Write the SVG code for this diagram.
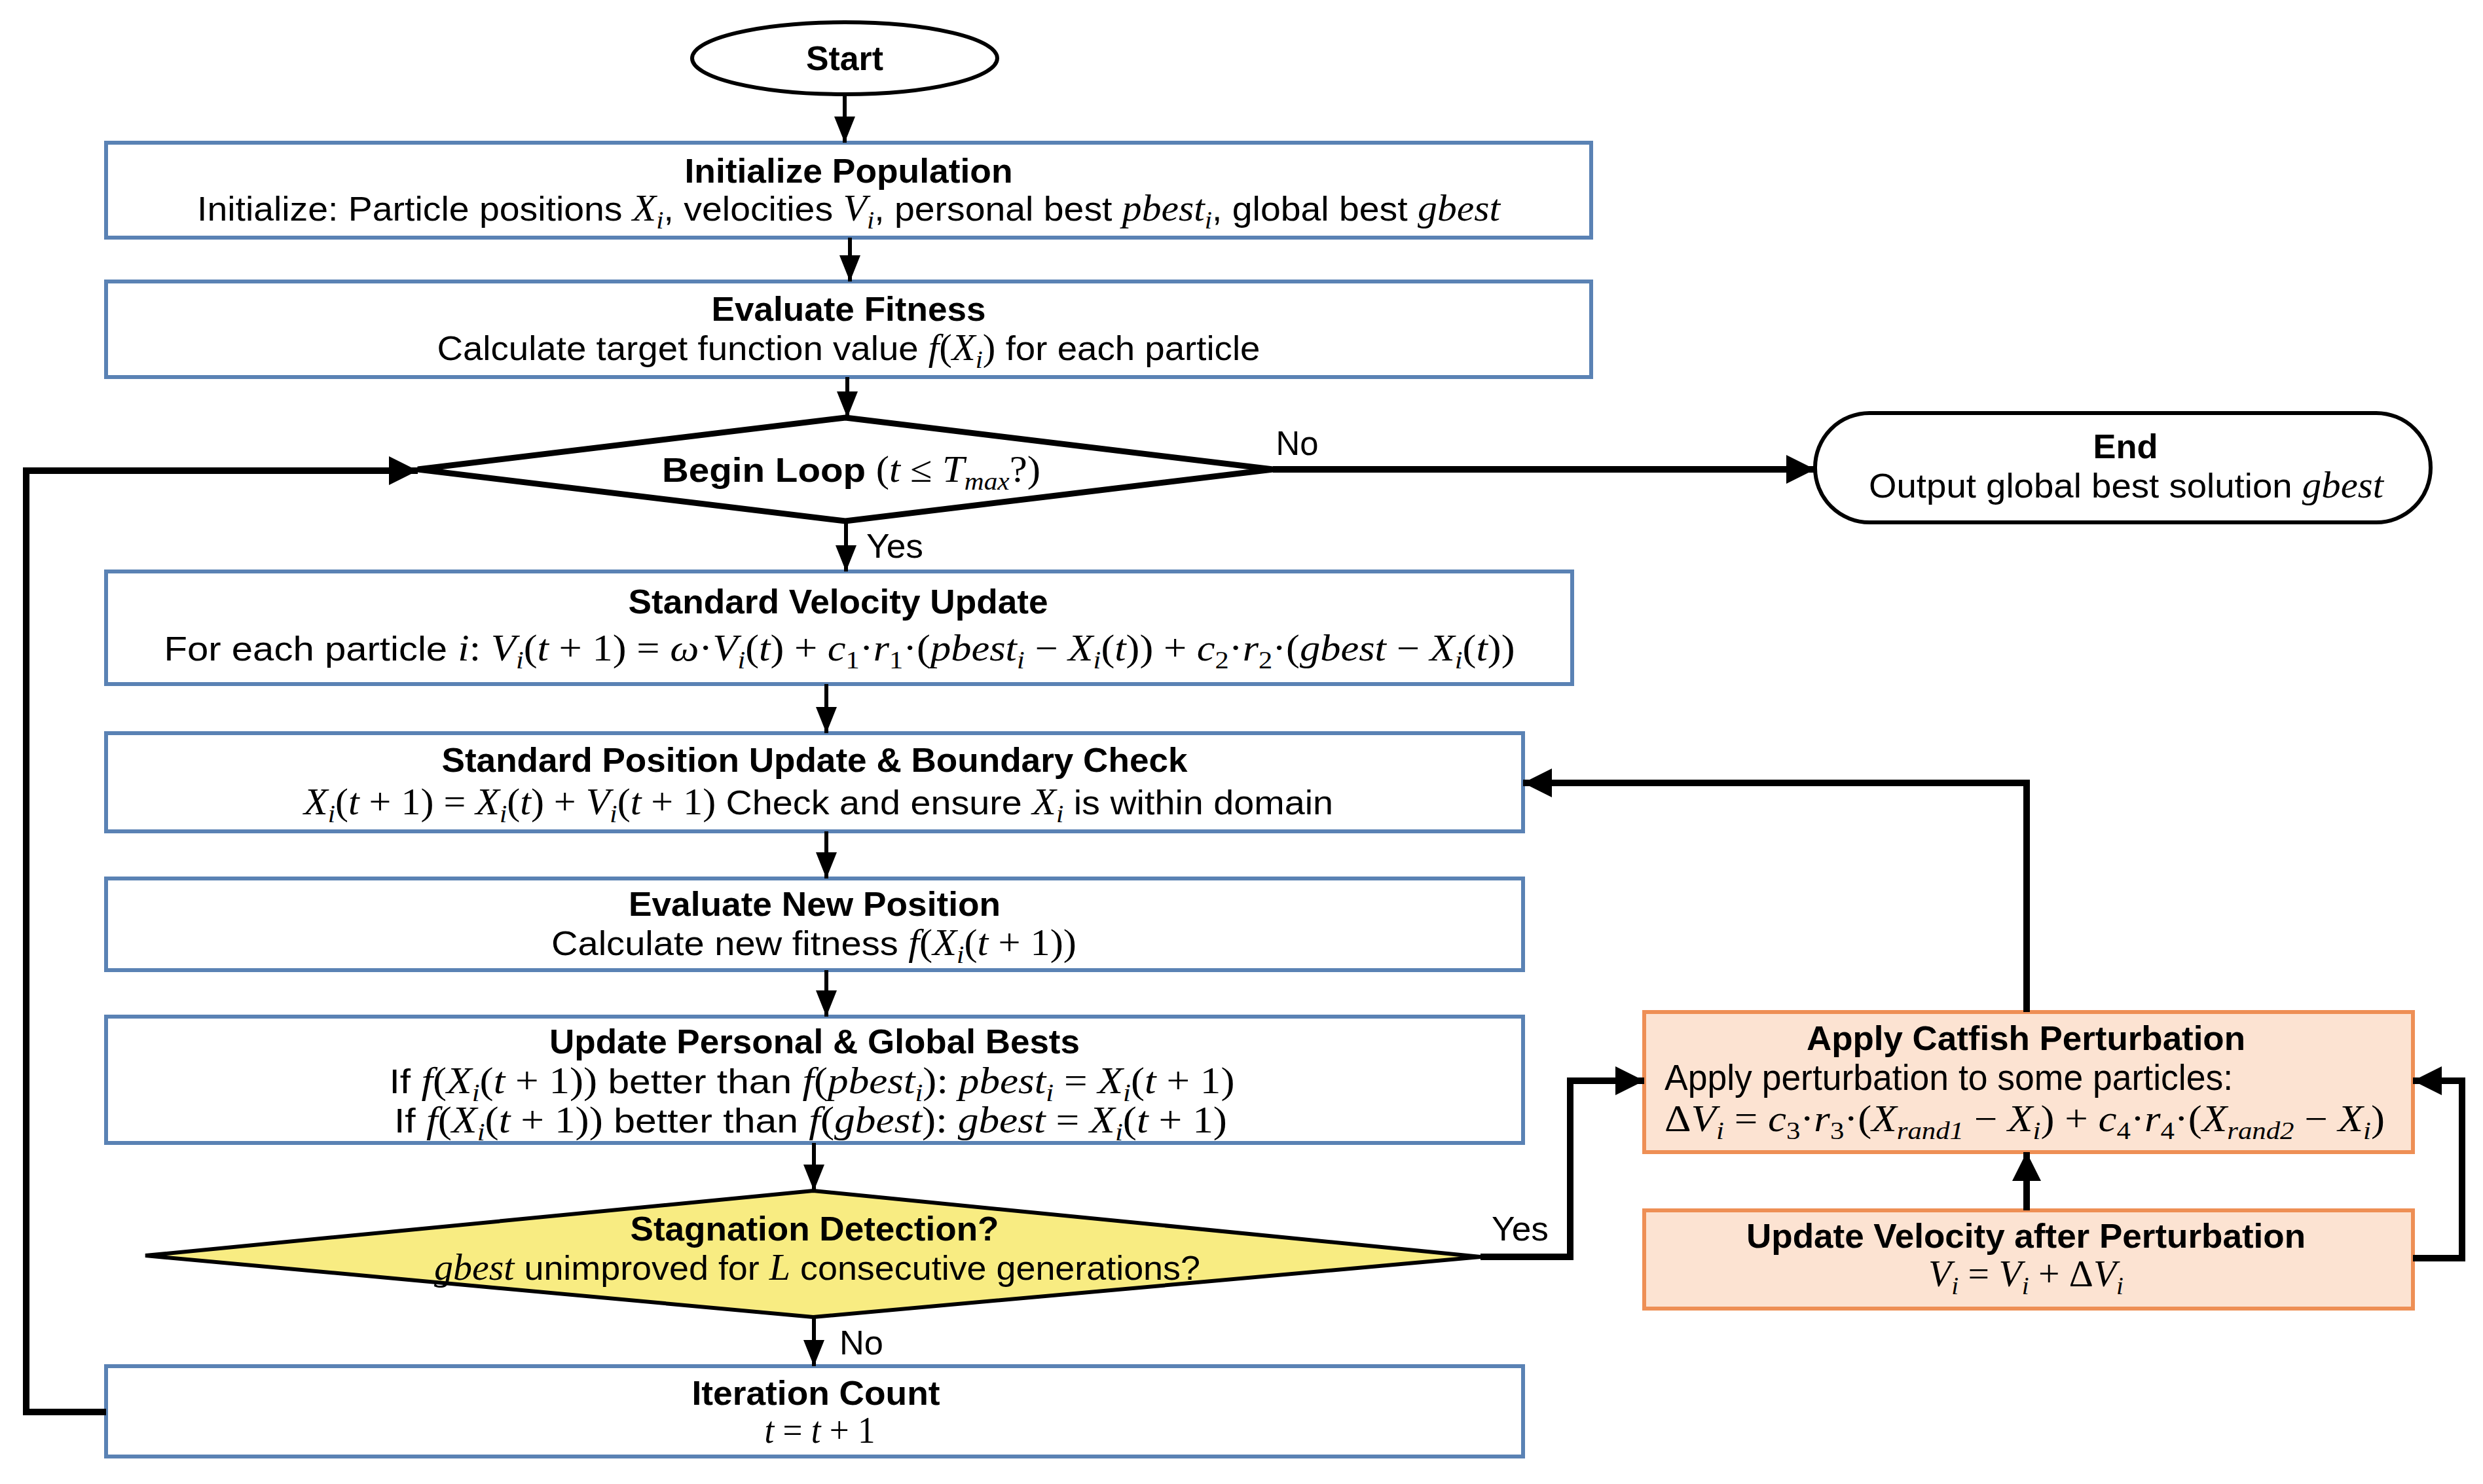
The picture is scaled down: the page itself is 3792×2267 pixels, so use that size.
<svg xmlns="http://www.w3.org/2000/svg" width="3792" height="2267" viewBox="0 0 3792 2267">
<style>
.bx{fill:#ffffff;stroke:#5a82b4;stroke-width:6}
.or{fill:#fce3d2;stroke:#ee8f55;stroke-width:6}
.tm{fill:#ffffff;stroke:#000;stroke-width:6}
.dm{fill:#ffffff;stroke:#000;stroke-width:9}
.dy{fill:#f8ec82;stroke:#000;stroke-width:6}
.ln{fill:none;stroke:#000;stroke-width:6}
.lk{fill:none;stroke:#000;stroke-width:10}
.t{font-family:"Liberation Sans",Arial,sans-serif;font-size:52px;fill:#000}
.b{font-weight:bold}
.m{font-family:"Liberation Serif","Times New Roman",serif;font-style:italic;font-size:56px}
.u{font-family:"Liberation Serif","Times New Roman",serif;font-style:normal;font-size:56px}
.i{font-style:italic}
.s{font-size:38px;baseline-shift:-12px}
</style>
<defs>
<marker id="ah" markerUnits="userSpaceOnUse" markerWidth="40" markerHeight="32" refX="40" refY="16" orient="auto"><path d="M0,0 L40,16 L0,32 z" fill="#000"/></marker>
<marker id="ak" markerUnits="userSpaceOnUse" markerWidth="44" markerHeight="44" refX="44" refY="22" orient="auto"><path d="M0,0 L44,22 L0,44 z" fill="#000"/></marker>
</defs>
<rect width="3792" height="2267" fill="#ffffff"/>

<g id="start">
<ellipse class="tm" cx="1290" cy="89" rx="233" ry="55"/>
<text class="t b" x="1290" y="107" text-anchor="middle" textLength="118" lengthAdjust="spacingAndGlyphs">Start</text>
</g>

<g id="init">
<rect class="bx" x="162" y="218" width="2268" height="145"/>
<text class="t b" x="1296" y="279" text-anchor="middle" textLength="501" lengthAdjust="spacingAndGlyphs">Initialize Population</text>
<text class="t" x="1296" y="337" text-anchor="middle" textLength="1990" lengthAdjust="spacingAndGlyphs">Initialize: Particle positions <tspan class="m">X<tspan class="s">i</tspan></tspan>, velocities <tspan class="m">V<tspan class="s">i</tspan></tspan>, personal best <tspan class="m">pbest<tspan class="s">i</tspan></tspan>, global best <tspan class="m">gbest</tspan></text>
</g>

<g id="evalfit">
<rect class="bx" x="162" y="430" width="2268" height="146"/>
<text class="t b" x="1296" y="490" text-anchor="middle" textLength="419" lengthAdjust="spacingAndGlyphs">Evaluate Fitness</text>
<text class="t" x="1296" y="550" text-anchor="middle" textLength="1257" lengthAdjust="spacingAndGlyphs">Calculate target function value <tspan class="u"><tspan class="i">f</tspan>(<tspan class="i">X</tspan><tspan class="i s">i</tspan>)</tspan> for each particle</text>
</g>

<g id="loop">
<polygon class="dm" points="1291,638 1944,717 1291,796 638,717"/>
<text class="t" x="1300" y="736" text-anchor="middle" textLength="578" lengthAdjust="spacingAndGlyphs"><tspan class="b">Begin Loop </tspan><tspan class="u">(<tspan class="i">t</tspan> ≤ <tspan class="i">T</tspan><tspan class="i s">max</tspan>?)</tspan></text>
</g>

<g id="end">
<rect class="tm" x="2772" y="631" width="940" height="167" rx="83" ry="83"/>
<text class="t b" x="3246" y="700" text-anchor="middle" textLength="99" lengthAdjust="spacingAndGlyphs">End</text>
<text class="t" x="3247" y="760" text-anchor="middle" textLength="786" lengthAdjust="spacingAndGlyphs">Output global best solution <tspan class="m">gbest</tspan></text>
</g>

<g id="velocity">
<rect class="bx" x="162" y="873" width="2239" height="172"/>
<text class="t b" x="1280" y="937" text-anchor="middle" textLength="641" lengthAdjust="spacingAndGlyphs">Standard Velocity Update</text>
<text class="t" x="1282" y="1009" text-anchor="middle" textLength="2063" lengthAdjust="spacingAndGlyphs">For each particle <tspan class="u"><tspan class="i">i</tspan>: <tspan class="i">V</tspan><tspan class="i s">i</tspan>(<tspan class="i">t</tspan> + 1) = <tspan class="i">ω</tspan>·<tspan class="i">V</tspan><tspan class="i s">i</tspan>(<tspan class="i">t</tspan>) + <tspan class="i">c</tspan><tspan class="s">1</tspan>·<tspan class="i">r</tspan><tspan class="s">1</tspan>·(<tspan class="i">pbest</tspan><tspan class="i s">i</tspan> − <tspan class="i">X</tspan><tspan class="i s">i</tspan>(<tspan class="i">t</tspan>)) + <tspan class="i">c</tspan><tspan class="s">2</tspan>·<tspan class="i">r</tspan><tspan class="s">2</tspan>·(<tspan class="i">gbest</tspan> − <tspan class="i">X</tspan><tspan class="i s">i</tspan>(<tspan class="i">t</tspan>))</tspan></text>
</g>

<g id="position">
<rect class="bx" x="162" y="1120" width="2164" height="150"/>
<text class="t b" x="1244" y="1179" text-anchor="middle" textLength="1139" lengthAdjust="spacingAndGlyphs">Standard Position Update &amp; Boundary Check</text>
<text class="t" x="1250" y="1244" text-anchor="middle" textLength="1572" lengthAdjust="spacingAndGlyphs"><tspan class="u"><tspan class="i">X</tspan><tspan class="i s">i</tspan>(<tspan class="i">t</tspan> + 1) = <tspan class="i">X</tspan><tspan class="i s">i</tspan>(<tspan class="i">t</tspan>) + <tspan class="i">V</tspan><tspan class="i s">i</tspan>(<tspan class="i">t</tspan> + 1)</tspan> Check and ensure <tspan class="m">X<tspan class="s">i</tspan></tspan> is within domain</text>
</g>

<g id="evalnew">
<rect class="bx" x="162" y="1342" width="2164" height="140"/>
<text class="t b" x="1244" y="1399" text-anchor="middle" textLength="568" lengthAdjust="spacingAndGlyphs">Evaluate New Position</text>
<text class="t" x="1243" y="1459" text-anchor="middle" textLength="802" lengthAdjust="spacingAndGlyphs">Calculate new fitness <tspan class="u"><tspan class="i">f</tspan>(<tspan class="i">X</tspan><tspan class="i s">i</tspan>(<tspan class="i">t</tspan> + 1))</tspan></text>
</g>

<g id="bests">
<rect class="bx" x="162" y="1553" width="2164" height="193"/>
<text class="t b" x="1244" y="1609" text-anchor="middle" textLength="810" lengthAdjust="spacingAndGlyphs">Update Personal &amp; Global Bests</text>
<text class="t" x="1240" y="1670" text-anchor="middle" textLength="1291" lengthAdjust="spacingAndGlyphs">If <tspan class="u"><tspan class="i">f</tspan>(<tspan class="i">X</tspan><tspan class="i s">i</tspan>(<tspan class="i">t</tspan> + 1))</tspan> better than <tspan class="u"><tspan class="i">f</tspan>(<tspan class="i">pbest</tspan><tspan class="i s">i</tspan>): <tspan class="i">pbest</tspan><tspan class="i s">i</tspan> = <tspan class="i">X</tspan><tspan class="i s">i</tspan>(<tspan class="i">t</tspan> + 1)</tspan></text>
<text class="t" x="1238" y="1730" text-anchor="middle" textLength="1272" lengthAdjust="spacingAndGlyphs">If <tspan class="u"><tspan class="i">f</tspan>(<tspan class="i">X</tspan><tspan class="i s">i</tspan>(<tspan class="i">t</tspan> + 1))</tspan> better than <tspan class="u"><tspan class="i">f</tspan>(<tspan class="i">gbest</tspan>): <tspan class="i">gbest</tspan> = <tspan class="i">X</tspan><tspan class="i s">i</tspan>(<tspan class="i">t</tspan> + 1)</tspan></text>
</g>

<g id="stagnation">
<polygon class="dy" points="1242,1819 2261,1920 1242,2012 222,1918"/>
<text class="t b" x="1244" y="1895" text-anchor="middle" textLength="563" lengthAdjust="spacingAndGlyphs">Stagnation Detection?</text>
<text class="t" x="1248" y="1955" text-anchor="middle" textLength="1170" lengthAdjust="spacingAndGlyphs"><tspan class="m">gbest</tspan> unimproved for <tspan class="m">L</tspan> consecutive generations?</text>
</g>

<g id="iteration">
<rect class="bx" x="162" y="2087" width="2164" height="138"/>
<text class="t b" x="1246" y="2146" text-anchor="middle" textLength="379" lengthAdjust="spacingAndGlyphs">Iteration Count</text>
<text class="t" x="1252" y="2204" text-anchor="middle" textLength="169" lengthAdjust="spacingAndGlyphs"><tspan class="u"><tspan class="i">t</tspan> = <tspan class="i">t</tspan> + 1</tspan></text>
</g>

<g id="catfish">
<rect class="or" x="2511" y="1546" width="1174" height="214"/>
<text class="t b" x="3094" y="1604" text-anchor="middle" textLength="670" lengthAdjust="spacingAndGlyphs">Apply Catfish Perturbation</text>
<text class="t" x="2542" y="1665" textLength="868" lengthAdjust="spacingAndGlyphs" style="font-size:55px">Apply perturbation to some particles:</text>
<text class="t" x="2542" y="1728" textLength="1100" lengthAdjust="spacingAndGlyphs"><tspan class="u">Δ<tspan class="i">V</tspan><tspan class="i s">i</tspan> = <tspan class="i">c</tspan><tspan class="s">3</tspan>·<tspan class="i">r</tspan><tspan class="s">3</tspan>·(<tspan class="i">X</tspan><tspan class="i s">rand1</tspan> − <tspan class="i">X</tspan><tspan class="i s">i</tspan>) + <tspan class="i">c</tspan><tspan class="s">4</tspan>·<tspan class="i">r</tspan><tspan class="s">4</tspan>·(<tspan class="i">X</tspan><tspan class="i s">rand2</tspan> − <tspan class="i">X</tspan><tspan class="i s">i</tspan>)</tspan></text>
</g>

<g id="updatevel">
<rect class="or" x="2511" y="1849" width="1174" height="150"/>
<text class="t b" x="3094" y="1906" text-anchor="middle" textLength="854" lengthAdjust="spacingAndGlyphs">Update Velocity after Perturbation</text>
<text class="t" x="3094" y="1965" text-anchor="middle" textLength="298" lengthAdjust="spacingAndGlyphs"><tspan class="u"><tspan class="i">V</tspan><tspan class="i s">i</tspan> = <tspan class="i">V</tspan><tspan class="i s">i</tspan> + Δ<tspan class="i">V</tspan><tspan class="i s">i</tspan></tspan></text>
</g>

<g id="connectors">
<path class="ln" d="M1290,144 V218" marker-end="url(#ah)"/>
<path class="ln" d="M1298,363 V430" marker-end="url(#ah)"/>
<path class="ln" d="M1294,576 V638" marker-end="url(#ah)"/>
<path class="ln" d="M1292,798 V873" marker-end="url(#ah)"/>
<path class="ln" d="M1262,1045 V1120" marker-end="url(#ah)"/>
<path class="ln" d="M1262,1270 V1342" marker-end="url(#ah)"/>
<path class="ln" d="M1262,1482 V1553" marker-end="url(#ah)"/>
<path class="ln" d="M1243,1746 V1819" marker-end="url(#ah)"/>
<path class="ln" d="M1243,2012 V2087" marker-end="url(#ah)"/>
<path class="lk" d="M1944,717 H2772" marker-end="url(#ak)"/>
<path class="lk" d="M162,2157 H40 V719 H638" marker-end="url(#ak)"/>
<path class="lk" d="M2261,1920 H2398 V1651 H2511" marker-end="url(#ak)"/>
<path class="lk" d="M3095,1546 V1196 H2326" marker-end="url(#ak)"/>
<path class="lk" d="M3095,1849 V1760" marker-end="url(#ak)"/>
<path class="lk" d="M3685,1922 H3760 V1651 H3685" marker-end="url(#ak)"/>
<text class="t" x="1981" y="695" text-anchor="middle" textLength="65" lengthAdjust="spacingAndGlyphs">No</text>
<text class="t" x="1323" y="852" textLength="87" lengthAdjust="spacingAndGlyphs">Yes</text>
<text class="t" x="2278" y="1895" textLength="87" lengthAdjust="spacingAndGlyphs">Yes</text>
<text class="t" x="1282" y="2069" textLength="67" lengthAdjust="spacingAndGlyphs">No</text>
</g>
</svg>
